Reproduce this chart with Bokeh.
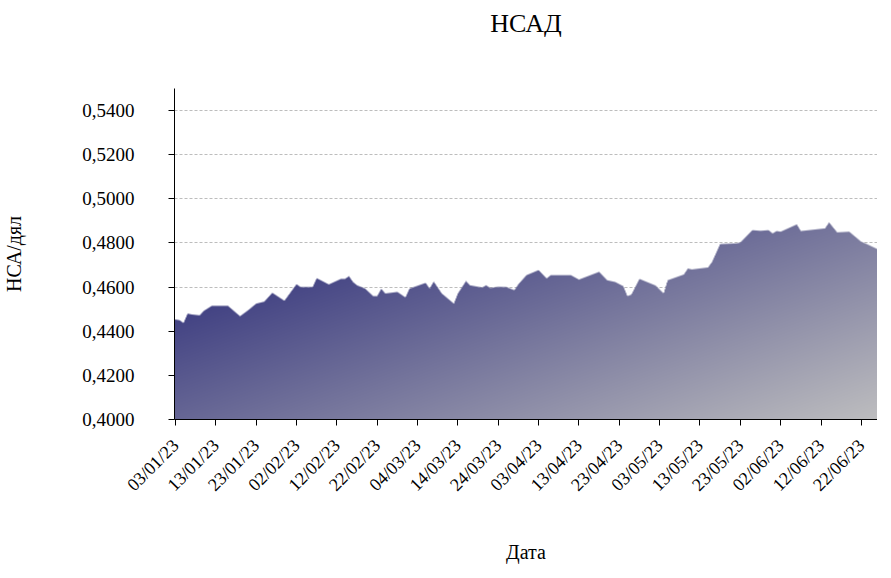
import math
from datetime import datetime
import numpy as np
from bokeh.plotting import figure
from bokeh.models import (FixedTicker, DatetimeTickFormatter, CustomJSTickFormatter,
                          Range1d, ColumnDataSource, Title)
from bokeh.embed import file_html
from bokeh.resources import INLINE

# ---------------- data ----------------
dates = [
    "2023-01-03", "2023-01-04", "2023-01-05", "2023-01-06", "2023-01-07", "2023-01-09",
    "2023-01-10", "2023-01-12", "2023-01-16", "2023-01-19", "2023-01-21", "2023-01-23",
    "2023-01-25", "2023-01-27", "2023-01-30", "2023-02-02", "2023-02-03", "2023-02-06",
    "2023-02-07", "2023-02-08", "2023-02-10", "2023-02-13", "2023-02-14", "2023-02-15",
    "2023-02-16", "2023-02-17", "2023-02-19", "2023-02-21", "2023-02-22", "2023-02-23",
    "2023-02-24", "2023-02-27", "2023-03-01", "2023-03-02", "2023-03-06", "2023-03-07",
    "2023-03-08", "2023-03-10", "2023-03-13", "2023-03-14", "2023-03-16", "2023-03-17",
    "2023-03-20", "2023-03-21", "2023-03-22", "2023-03-24", "2023-03-26", "2023-03-28",
    "2023-03-29", "2023-03-31", "2023-04-03", "2023-04-05", "2023-04-06", "2023-04-11",
    "2023-04-13", "2023-04-18", "2023-04-20", "2023-04-22", "2023-04-24", "2023-04-25",
    "2023-04-26", "2023-04-28", "2023-05-02", "2023-05-04", "2023-05-05", "2023-05-09",
    "2023-05-10", "2023-05-11", "2023-05-15", "2023-05-16", "2023-05-18", "2023-05-22",
    "2023-05-23", "2023-05-26", "2023-05-28", "2023-05-30", "2023-05-31", "2023-06-01",
    "2023-06-02", "2023-06-06", "2023-06-07", "2023-06-13", "2023-06-14", "2023-06-16",
    "2023-06-19", "2023-06-22", "2023-06-23", "2023-06-26", "2023-06-27",
]
nav_values = [
    0.4453, 0.4450, 0.4437, 0.4480, 0.4476, 0.4472,
    0.4492, 0.4515, 0.4515, 0.4468, 0.4495, 0.4525,
    0.4534, 0.4574, 0.4538, 0.4613, 0.4600, 0.4600,
    0.4640, 0.4631, 0.4612, 0.4637, 0.4637, 0.4649,
    0.4623, 0.4608, 0.4593, 0.4559, 0.4559, 0.4592,
    0.4571, 0.4578, 0.4553, 0.4593, 0.4619, 0.4593,
    0.4625, 0.4571, 0.4525, 0.4571, 0.4627, 0.4608,
    0.4598, 0.4608, 0.4596, 0.4601, 0.4600, 0.4586,
    0.4613, 0.4654, 0.4677, 0.4639, 0.4654, 0.4654,
    0.4634, 0.4669, 0.4631, 0.4623, 0.4604, 0.4559,
    0.4566, 0.4637, 0.4607, 0.4571, 0.4631, 0.4657,
    0.4684, 0.4680, 0.4689, 0.4714, 0.4795, 0.4798,
    0.4802, 0.4858, 0.4855, 0.4858, 0.4843, 0.4854,
    0.4851, 0.4884, 0.4854, 0.4866, 0.4893, 0.4848,
    0.4851, 0.4805, 0.4798, 0.4772, 0.4782,
]
x_tick_dates = [
    "2023-01-03", "2023-01-13", "2023-01-23", "2023-02-02", "2023-02-12", "2023-02-22",
    "2023-03-04", "2023-03-14", "2023-03-24", "2023-04-03", "2023-04-13", "2023-04-23",
    "2023-05-03", "2023-05-13", "2023-05-23", "2023-06-02", "2023-06-12", "2023-06-22",
]
y_tick_values = [0.40, 0.42, 0.44, 0.46, 0.48, 0.50, 0.52, 0.54]
title_text = "НСАД"
x_label = "Дата"
y_label = "НСА/дял"

# ---------------- helpers ----------------
EPOCH = datetime(1970, 1, 1)


def to_ms(d):
    return (d - EPOCH).total_seconds() * 1000.0


x_dt = [datetime.strptime(d, "%Y-%m-%d") for d in dates]
x_ms = np.array([to_ms(d) for d in x_dt])
y_vals = np.array(nav_values)

x_start = datetime(2023, 1, 2, 18)
x_end = datetime(2023, 6, 26, 0)
y_start, y_end = 0.40, 0.55

FONT = "Liberation Serif"
FW, FH = 703, 331  # frame size in px
TOP, BOTTOM, LEFT = 88, 143, 172

p = figure(frame_width=FW, frame_height=FH, x_axis_type="datetime",
           x_range=Range1d(x_start, x_end), y_range=Range1d(y_start, y_end),
           output_backend="svg", toolbar_location=None,
           min_border_left=LEFT, min_border_right=0, min_border_top=TOP,
           min_border_bottom=BOTTOM)

# ---- gradient-filled area (image masked by the data curve) ----
xs0, xs1 = to_ms(x_start), to_ms(x_end)
col_ms = xs0 + (np.arange(FW) + 0.5) * (xs1 - xs0) / FW
curve = np.interp(col_ms, x_ms, y_vals)
h_px = (curve - y_start) / (y_end - y_start) * FH           # fill height per column
rows = np.arange(FH)[:, None]                                # 0 = bottom row
alpha = np.clip(h_px[None, :] - rows, 0.0, 1.0)
xf = (np.arange(FW) + 0.5)[None, :]
yf = FH - (rows + 0.5)                                       # distance from frame top
t = np.clip(0.001 * xf + 0.0028 * yf - 0.653, 0.0, 1.0)
c0 = np.array([68, 68, 132], dtype=float)
c1 = np.array([192, 192, 192], dtype=float)
img = np.zeros((FH, FW, 4), dtype=np.uint8)
for k in range(3):
    img[:, :, k] = np.round(c0[k] + (c1[k] - c0[k]) * t).astype(np.uint8)
img[:, :, 3] = np.round(alpha * 255).astype(np.uint8)
img32 = img.view(dtype=np.uint32).reshape((FH, FW))

p.image_rgba(image=[img32], x=x_start, y=y_start,
             dw=(xs1 - xs0), dh=(y_end - y_start), dw_units="data", dh_units="data")

# the series itself through the scales (edge kept invisible, fill comes from the image)
src = ColumnDataSource(dict(x=x_dt, y=y_vals))
p.line("x", "y", source=src, line_alpha=0.0)

# ---------------- title: an empty spacer next to the frame, the title above it ----------------
p.add_layout(Title(text=" ", text_font_size="44px", standoff=0), "above")
p.add_layout(Title(text=title_text, align="center", offset=8, text_font=FONT,
                   text_font_size="26px", text_font_style="normal", text_color="black",
                   standoff=0), "above")

# ---------------- styling ----------------
p.outline_line_color = None
p.background_fill_color = "white"
p.border_fill_color = "white"

p.xgrid.visible = False
p.ygrid.ticker = FixedTicker(ticks=y_tick_values)
p.ygrid.grid_line_color = "#bdbdbd"
p.ygrid.grid_line_dash = "3 2"
p.ygrid.grid_line_width = 1

for ax in (p.xaxis[0], p.yaxis[0]):
    ax.axis_line_color = "black"
    ax.axis_line_width = 1
    ax.major_tick_line_color = "black"
    ax.major_tick_in = 0
    ax.major_tick_out = 6
    ax.minor_tick_line_color = None
    ax.major_label_text_font = FONT
    ax.major_label_text_color = "black"
    ax.axis_label_text_font = FONT
    ax.axis_label_text_font_size = "20px"
    ax.axis_label_text_font_style = "normal"
    ax.axis_label_text_color = "black"

p.yaxis.major_label_text_font_size = "19px"
p.yaxis.ticker = FixedTicker(ticks=y_tick_values)
p.yaxis.formatter = CustomJSTickFormatter(code="return tick.toFixed(4).replace('.', ',');")
p.yaxis.major_label_standoff = 34
p.yaxis.axis_label = y_label
p.yaxis.axis_label_standoff = 54

p.xaxis.major_label_text_font_size = "18px"
p.xaxis.ticker = FixedTicker(ticks=[to_ms(datetime.strptime(d, "%Y-%m-%d")) for d in x_tick_dates])
fmt = "%d/%m/%y"
p.xaxis.formatter = DatetimeTickFormatter(microseconds=fmt, milliseconds=fmt, seconds=fmt,
                                          minsec=fmt, minutes=fmt, hourmin=fmt, hours=fmt,
                                          days=fmt, months=fmt, years=fmt)
p.xaxis.major_label_orientation = math.pi / 4
p.xaxis.major_label_standoff = 17
p.xaxis.axis_label = x_label
p.xaxis.axis_label_standoff = 36

open("out.html", "w").write(file_html(p, INLINE))
